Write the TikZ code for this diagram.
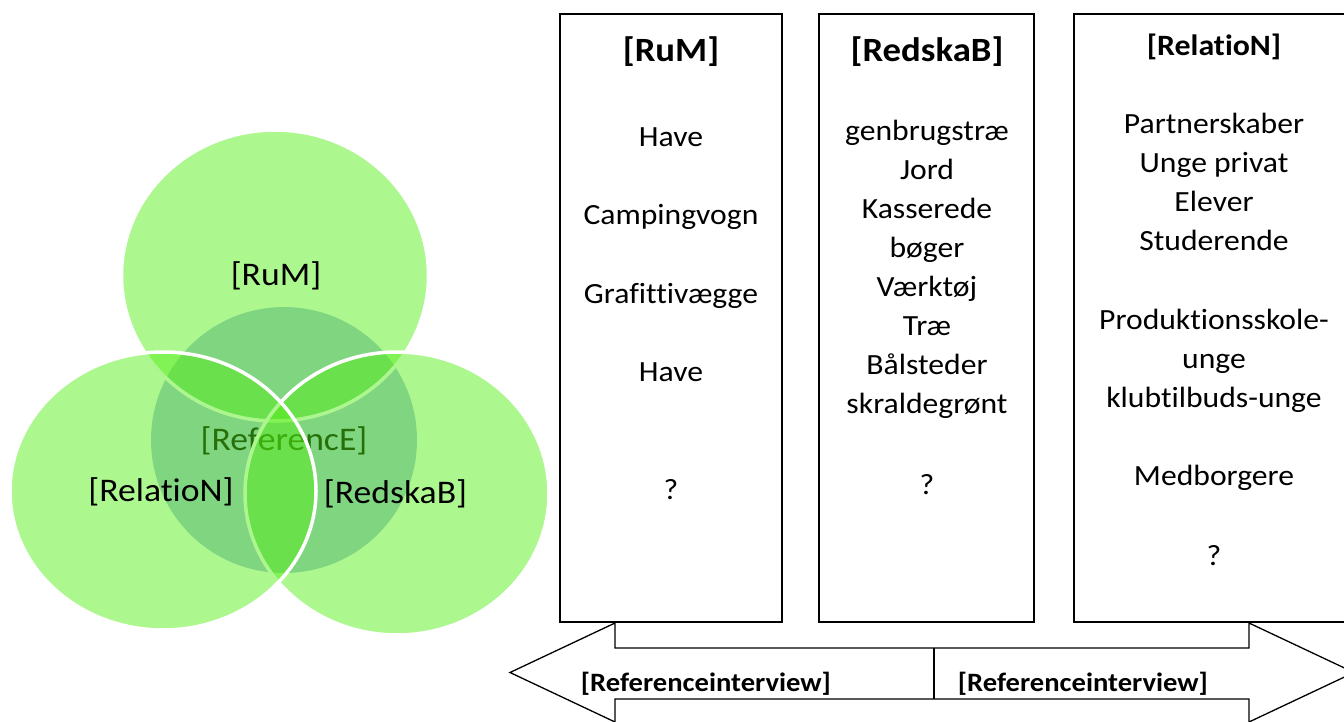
\documentclass[tikz,border=0pt]{standalone}
\usepackage{fontspec}
\setmainfont{Carlito}[FakeStretch=1.08, Ligatures=NoCommon]
\definecolor{vgreen}{RGB}{83,238,20}
\definecolor{vcenter}{RGB}{169,192,226}
\begin{document}
\begin{tikzpicture}[x=1pt,y=-1pt,
  outer/.style={fill=vgreen, fill opacity=0.476, draw=white, line width=3.5pt},
  vlabel/.style={font=\fontsize{33}{40}\selectfont, inner sep=0pt, text=black},
  boxframe/.style={draw=black, line width=1.6pt, fill=white},
  boxtitle/.style={font=\bfseries\fontsize{34}{40}\selectfont, inner sep=0pt},
  boxtitlesmall/.style={font=\bfseries\fontsize{29.5}{34}\selectfont, inner sep=0pt},
  item/.style={font=\fontsize{29.3}{35}\selectfont, inner sep=0pt, anchor=base},
  arrowshape/.style={draw=black, line width=1.3pt, fill=white},
  arrowtext/.style={font=\bfseries\fontsize{26.5}{30}\selectfont, inner sep=0pt, anchor=base}]
\useasboundingbox (0,0) rectangle (1344,722);
\clip (0,0) rectangle (1344,722);

% ---- Venn diagram ----
\fill[vcenter] (284,440) circle[radius=133pt];
\node[vlabel] (ref) at (284,441) {[ReferencE]};
\draw[outer] (275,275.5) ellipse[x radius=153.5pt, y radius=145.5pt];
\draw[outer] (397,493.5) ellipse[x radius=152pt, y radius=141.5pt];
\draw[outer] (163,491) ellipse[x radius=153pt, y radius=139pt];
\node[vlabel] (vrum) at (276,276) {[RuM]};
\node[vlabel] (vrel) at (161,492) {[RelatioN]};
\node[vlabel] (vred) at (395.5,494) {[RedskaB]};

% ---- boxes ----
\draw[boxframe] (560,14) rectangle (782,622);
\draw[boxframe] (819,14) rectangle (1034,622);
\draw[boxframe] (1074,14) rectangle (1356,622);

\node[boxtitle] (t1) at (671,52) {[RuM]};
\node[boxtitle] (t2) at (927,52) {[RedskaB]};
\node[boxtitlesmall] (t3) at (1214,47) {[RelatioN]};

\foreach \yy/\txt [count=\i] in {147/Have, 225/Campingvogn, 303/Grafittivægge, 381/Have, 499/?}
  \node[item] (a\i) at (671,\yy) {\txt};

\foreach \yy/\txt [count=\i] in {140.5/genbrugstræ, 179.5/Jord, 218.5/Kasserede, 257.5/bøger, 296.5/Værktøj, 335.5/Træ, 374.5/Bålsteder, 413.5/skraldegrønt, 494/?}
  \node[item] (b\i) at (927,\yy) {\txt};

\foreach \yy/\txt [count=\i] in {134/Partnerskaber, 173/Unge privat, 212/Elever, 251/Studerende, 329/Produktionsskole-, 368/unge, 407/klubtilbuds-unge, 485/Medborgere, 565/?}
  \node[item] (c\i) at (1214,\yy) {\txt};

% ---- double arrow ----
\draw[arrowshape] (615,623) -- (615,648) -- (1249,648) -- (1249,623) -- (1354,672.5)
  -- (1249,722) -- (1249,699) -- (615,699) -- (615,722) -- (510,672.5) -- cycle;
\draw[black, line width=1.3pt] (934,648) -- (934,699);
\node[arrowtext] (ri1) at (706,691.5) {[Referenceinterview]};
\node[arrowtext] (ri2) at (1083,691.5) {[Referenceinterview]};
\end{tikzpicture}
\end{document}
